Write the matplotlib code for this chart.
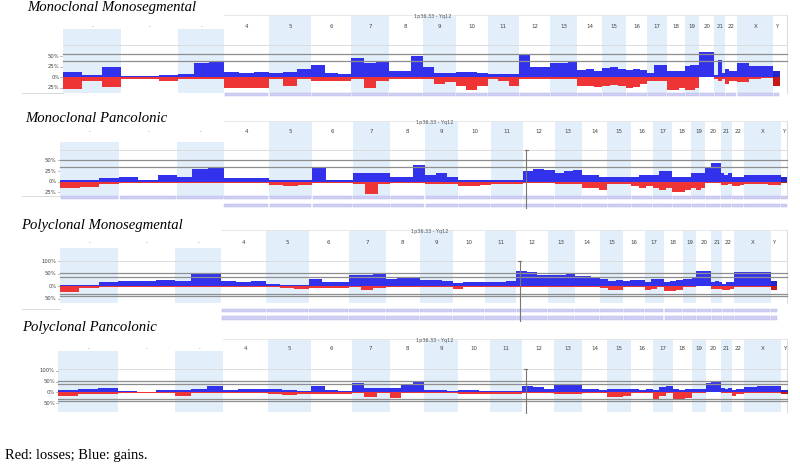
import numpy as np
import matplotlib
matplotlib.use('Agg')
import matplotlib.pyplot as plt
from matplotlib.patches import Rectangle

# chromosomes and their lengths (Mb) as laid out on the genome axis
chrom_names = ['1', '2', '3', '4', '5', '6', '7', '8', '9', '10', '11', '12',
               '13', '14', '15', '16', '17', '18', '19', '20', '21', '22', 'X', 'Y']
chrom_mb = [249, 243, 198, 191, 181, 171, 159, 146, 141, 136, 135, 134,
            115, 107, 102, 90, 83, 80, 59, 64, 47, 51, 155, 28]

# frequency of gains / losses (%) in three bins per chromosome
mm_gain = [[12, 5, 25], [3, 2, 5], [8, 35, 38], [12, 10, 12], [10, 12, 20], [30, 10, 8],
           [45, 35, 38], [15, 15, 50], [25, 10, 10], [12, 12, 10], [8, 8, 8], [55, 25, 25],
           [35, 35, 38], [18, 20, 15], [22, 25, 20], [18, 20, 18], [10, 30, 30], [15, 15, 15],
           [28, 30, 30], [60, 60, 60], [5, 40, 10], [20, 15, 15], [35, 28, 28], [15, 15, 15]]
mm_loss = [[28, 8, 23], [3, 5, 10], [5, 4, 3], [25, 25, 25], [5, 20, 5], [10, 8, 10],
           [5, 25, 10], [3, 3, 3], [3, 15, 12], [20, 30, 20], [5, 8, 20], [5, 5, 3],
           [5, 5, 5], [20, 20, 22], [20, 18, 20], [25, 22, 15], [8, 10, 10], [30, 30, 25],
           [30, 30, 25], [0, 0, 0], [5, 10, 5], [15, 10, 10], [12, 5, 2], [20, 20, 20]]

mp_gain = [[3, 5, 8], [10, 5, 15], [10, 30, 35], [8, 8, 8], [3, 3, 3], [35, 3, 3],
           [20, 20, 20], [10, 10, 40], [15, 20, 10], [5, 5, 5], [3, 5, 3], [25, 30, 28],
           [20, 25, 28], [15, 15, 10], [10, 12, 12], [12, 15, 15], [15, 25, 25], [12, 10, 12],
           [20, 20, 20], [35, 45, 45], [20, 15, 20], [10, 10, 10], [15, 15, 15], [10, 10, 10]]
mp_loss = [[15, 12, 5], [3, 2, 2], [3, 2, 2], [3, 3, 3], [8, 10, 8], [3, 3, 3],
           [5, 30, 5], [3, 3, 3], [5, 5, 5], [10, 10, 8], [5, 5, 5], [2, 2, 2],
           [5, 5, 5], [15, 15, 20], [5, 5, 5], [10, 15, 10], [15, 20, 15], [25, 25, 20],
           [15, 20, 15], [3, 2, 2], [8, 8, 5], [10, 10, 8], [5, 5, 8], [3, 3, 3]]

pm_gain = [[3, 3, 18], [22, 22, 25], [20, 48, 50], [20, 18, 20], [10, 5, 3], [30, 15, 15],
           [45, 45, 48], [30, 35, 38], [25, 25, 20], [12, 15, 15], [15, 18, 20], [60, 55, 45],
           [45, 45, 48], [40, 40, 38], [30, 22, 25], [22, 25, 25], [15, 30, 30], [15, 20, 25],
           [30, 30, 32], [60, 62, 62], [15, 20, 18], [10, 15, 15], [55, 55, 55], [20, 20, 20]]
pm_loss = [[22, 8, 3], [3, 3, 3], [3, 3, 3], [3, 3, 3], [2, 8, 12], [8, 8, 8],
           [5, 15, 8], [3, 3, 3], [3, 3, 3], [10, 5, 3], [3, 3, 3], [3, 3, 3],
           [5, 5, 5], [5, 5, 5], [8, 15, 15], [5, 5, 5], [15, 10, 5], [20, 18, 15],
           [5, 5, 5], [0, 0, 0], [10, 10, 10], [15, 15, 10], [3, 3, 3], [15, 15, 15]]

pp_gain = [[10, 15, 20], [5, 3, 12], [10, 15, 30], [12, 15, 15], [15, 10, 5], [30, 12, 8],
           [45, 20, 20], [20, 35, 50], [10, 10, 8], [10, 10, 8], [5, 5, 5], [30, 25, 15],
           [35, 35, 35], [15, 15, 12], [15, 15, 15], [15, 10, 15], [10, 25, 30], [15, 12, 15],
           [15, 15, 15], [45, 50, 50], [20, 15, 20], [10, 15, 15], [25, 30, 30], [10, 10, 10]]
pp_loss = [[15, 8, 10], [3, 3, 3], [15, 5, 3], [5, 5, 5], [8, 12, 8], [10, 10, 10],
           [3, 20, 5], [25, 3, 3], [5, 5, 5], [10, 10, 10], [10, 10, 8], [3, 3, 3],
           [10, 10, 10], [3, 3, 3], [20, 20, 15], [3, 3, 3], [30, 15, 5], [35, 30, 25],
           [3, 3, 3], [0, 0, 0], [5, 5, 5], [15, 10, 10], [3, 3, 3], [10, 10, 10]]

titles = ['Monoclonal Monosegmental', 'Monoclonal Pancolonic',
          'Polyclonal Monosegmental', 'Polyclonal Pancolonic']
gains = [mm_gain, mp_gain, pm_gain, pp_gain]
losses = [mm_loss, mp_loss, pm_loss, pp_loss]
tick_vals = [[50, 25, 0, -25], [50, 25, 0, -25], [100, 50, 0, -50], [100, 50, 0, -50]]
thresholds = [[55, 39], [50, 35], [52, 37, -31, -39], [53, 38, -32, -40]]
light_line = [77, 74, 100, 108]
cursor_mb = 1965

# pixel layout of each panel (figure is 800 x 465 px)
layout = [
    dict(title_xy=(27, 8), top=15, box13=29, lab_y=27, zero=77.3, s=0.42, bottom=93,
         strips=[(93, 96.5)], x0=63, k=0.2339, cursor=False),
    dict(title_xy=(25, 119), top=121, box13=142.3, lab_y=131.7, zero=181.7, s=0.425, bottom=198.3,
         strips=[(196.5, 199.5), (204, 207)], x0=60, k=0.2373, cursor=True),
    dict(title_xy=(21, 225), top=230, box13=247.7, lab_y=242.3, zero=286, s=0.25, bottom=302.7,
         strips=[(308.5, 311.5), (316, 319.5)], x0=60, k=0.234, cursor=True),
    dict(title_xy=(22, 327), top=339, box13=351, lab_y=349, zero=392.3, s=0.215, bottom=411.7,
         strips=[], x0=58.3, k=0.238, cursor=True),
]

W, H = 800, 465
blue = '#3232ec'
red = '#ee3434'
shade = '#e2effb'
dark = '#8e8e8e'
right_px = 787

fig = plt.figure(figsize=(8, 4.65), dpi=100)
starts = np.concatenate([[0], np.cumsum(chrom_mb)[:-1]])

for p in range(4):
    L = layout[p]
    ax_top = L['top'] - 2
    ax_bot = max([L['bottom']] + [b for a, b in L['strips']]) + 2
    ax = fig.add_axes([0, 1 - ax_bot / H, 1, (ax_bot - ax_top) / H])
    ax.axis('off')
    x0, k, z, s = L['x0'], L['k'], L['zero'], L['s']
    ax.set_xlim((0 - x0) / k, (W - x0) / k)
    ax.set_ylim((z - ax_bot) / s, (z - ax_top) / s)

    def ypct(px):
        return (z - px) / s

    x_right = (right_px - x0) / k

    # light blue chromosome boxes
    for i, name in enumerate(chrom_names):
        if i % 2 == 0 and name != 'Y':
            top_px = L['box13'] if i < 3 else L['top']
            ax.add_patch(Rectangle((starts[i], ypct(L['bottom'])), chrom_mb[i],
                                   ypct(top_px) - ypct(L['bottom']),
                                   facecolor=shade, edgecolor='none', zorder=0))
        label = name if i >= 3 else '\u00b7'
        ax.text(starts[i] + chrom_mb[i] / 2, ypct(L['lab_y']), label, fontsize=4,
                ha='center', va='center', color='#444444')

    # panel frame pieces
    ax.plot([starts[3], x_right], [ypct(L['top'])] * 2, color='#e4e4e4', lw=0.6, zorder=1)
    ax.plot([x_right, x_right], [ypct(L['top']), ypct(L['bottom'])], color='#dddddd', lw=0.8, zorder=1)
    ax.text(starts[7] + 0.75 * chrom_mb[7], ypct(L['top'] + 1.5), '1p36.33 - Yq12', fontsize=3.5,
            ha='left', va='center', color='#555555')

    # reference lines
    ax.plot([0, x_right], [light_line[p]] * 2, color='#dcdcdc', lw=0.7, zorder=1)
    for t in thresholds[p]:
        ax.plot([0, x_right], [t, t], color=dark, lw=0.9, zorder=3)

    # gains and losses
    for i in range(len(chrom_names)):
        g = gains[p][i]
        lo = losses[p][i]
        n = len(g)
        w = chrom_mb[i] / n
        lefts = starts[i] + np.arange(n) * w
        cg = '#2424c8' if chrom_names[i] == 'Y' else blue
        cl = '#c81818' if chrom_names[i] == 'Y' else red
        ax.bar(lefts, g, width=w, align='edge', color=cg, linewidth=0, zorder=2)
        ax.bar(lefts, [-v for v in lo], width=w, align='edge', color=cl, linewidth=0, zorder=2)

    # y tick labels
    tick_w = 2.5 / k
    for v in tick_vals[p]:
        ax.plot([-tick_w, -0.6 / k], [v, v], color='#999999', lw=0.5, clip_on=False)
        ax.text(-3.5 / k, v, '%d%%' % abs(v), fontsize=3.8, ha='right', va='center',
                color='#444444', clip_on=False)

    # bottom strips
    for j, (a, b) in enumerate(L['strips']):
        first = 0 if (p == 1 and j == 0) else 3
        for i in range(first, len(chrom_names)):
            ax.add_patch(Rectangle((starts[i] + 0.6 / k, ypct(b)), chrom_mb[i] - 1.2 / k,
                                   ypct(a) - ypct(b), facecolor='#cfcff4',
                                   edgecolor='#b4b4e6', lw=0.3, zorder=1))
    if L['strips']:
        a0 = L['strips'][0][0]
        ax.plot([(22 - x0) / k, 0], [ypct(a0)] * 2, color='#cccccc', lw=0.5, clip_on=False)

    if L['cursor']:
        ax.plot([cursor_mb, cursor_mb], [ypct(ax_bot), light_line[p]], color='#777777', lw=0.8, zorder=4)
        ax.plot([cursor_mb - 1.5 / k, cursor_mb + 1.5 / k], [light_line[p]] * 2,
                color='#777777', lw=0.8, zorder=4)

    tx, ty = L['title_xy']
    fig.text(tx / W, 1 - ty / H, titles[p], fontsize=10.6, style='italic',
             family='Liberation Serif', ha='left', va='center')

fig.text(5 / W, 1 - 455 / H, 'Red: losses; Blue: gains.', fontsize=10.5,
         family='Liberation Serif', ha='left', va='center')

fig.savefig('out.png', dpi=100)
